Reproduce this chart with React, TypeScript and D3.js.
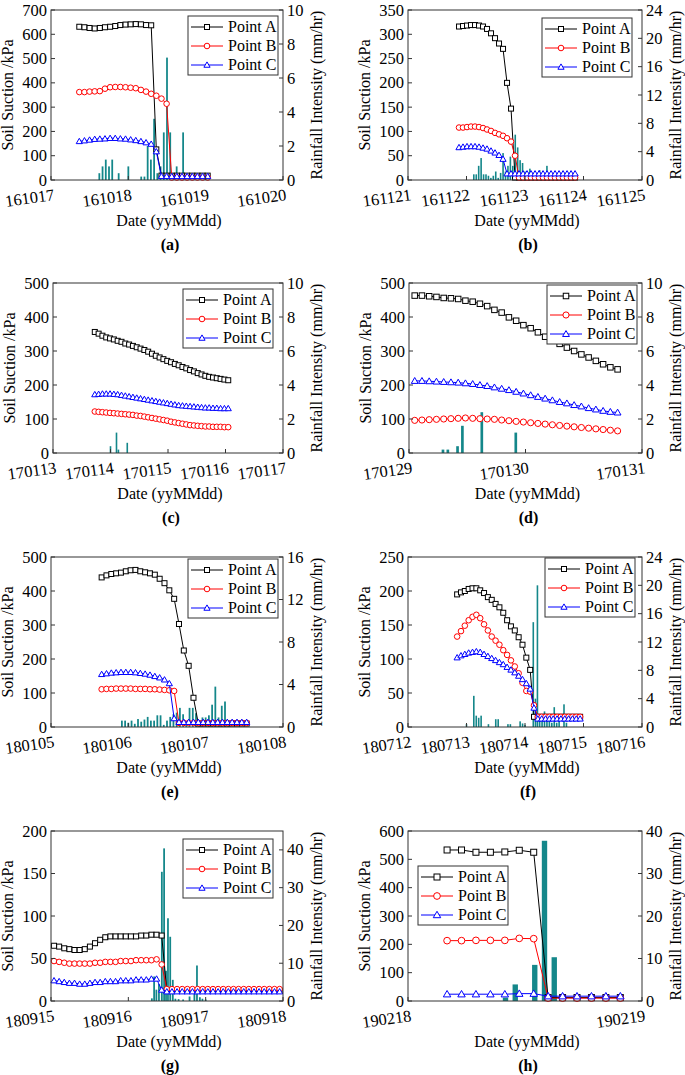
import * as d3 from "d3";

const FONT = "'Liberation Serif', 'Times New Roman', serif";
const RAIN = "#14878a";
const PLOT_H = 170;

// (a) 161017 - 161020
const aDates = ["161017", "161018", "161019", "161020"];
const aPointA = [631, 629, 626, 624, 626, 629, 631, 634, 638, 640, 641, 642, 641, 638, 637, 126, 18, 18, 18, 18, 18, 18, 18, 18, 18, 18];
const aPointB = [362, 362, 364, 365, 366, 376, 382, 383, 383, 382, 380, 378, 371, 364, 355, 347, 335, 314, 10, 10, 10, 10, 10, 10, 10, 10];
const aPointC = [159, 162, 165, 168, 169, 170, 172, 172, 170, 169, 166, 163, 159, 154, 148, 117, 15, 15, 15, 15, 15, 15, 15, 15, 15, 15];
const aRainHour = [15, 16, 17, 18, 19, 21, 24, 28, 29, 30, 31, 32, 33, 34, 35, 36, 37, 38, 39, 41];
const aRainValue = [0.4, 0.8, 1.2, 0.8, 1.2, 0.4, 0.8, 0.2, 0.2, 2.0, 1.2, 3.6, 0.4, 0.8, 2.8, 7.2, 2.8, 0.4, 0.8, 2.8];

// (b) 161121 - 161125
const bDates = ["161121", "161122", "161123", "161124", "161125"];
const bPointA = [316, 317, 318, 319, 319, 318, 316, 311, 302, 292, 281, 270, 200, 147, 5, 5, 5, 5, 5, 5, 5, 5, 5, 5, 5, 5, 5, 5, 5, 5];
const bPointB = [108, 108, 109, 110, 110, 109, 107, 104, 101, 97, 94, 91, 86, 79, 50, 5, 5, 5, 5, 5, 5, 5, 5, 5, 5, 5, 5, 5, 5, 5];
const bPointC = [67, 68, 69, 69, 69, 68, 66, 64, 60, 56, 51, 43, 13, 13, 13, 13, 13, 13, 13, 13, 13, 13, 13, 13, 13, 13, 13, 13, 13, 13];
const bRainHour = [27, 28, 29, 30, 31, 32, 33, 34, 35, 36, 37, 38, 39, 40, 41, 42, 43, 44, 45, 46, 47, 48, 49, 50, 51, 52, 53, 54, 55, 56, 57, 58, 59, 60];
const bRainValue = [0.8, 0.8, 2.0, 3.1, 0.8, 0.8, 0.6, 0.3, 0.6, 1.2, 0.3, 1.0, 3.8, 1.2, 2.0, 3.3, 2.0, 6.4, 4.6, 2.8, 2.4, 1.2, 0.8, 1.6, 1.0, 1.2, 0.8, 1.4, 0.6, 1.0, 2.0, 0.8, 0.6, 0.4];

// (c) 170113 - 170117
const cDates = ["170113", "170114", "170115", "170116", "170117"];
const cPointA = [356, 351, 345, 340, 337, 334, 330, 327, 322, 319, 315, 311, 307, 303, 298, 292, 286, 281, 276, 271, 267, 262, 258, 253, 249, 244, 240, 235, 231, 227, 224, 222, 220, 218, 216, 214];
const cPointB = [122, 121, 120, 119, 118, 117, 116, 115, 114, 113, 112, 110, 109, 107, 105, 103, 101, 99, 97, 95, 92, 90, 88, 86, 84, 82, 81, 80, 79, 78, 78, 77, 77, 77, 76, 76];
const cPointC = [172, 173, 174, 174, 174, 173, 172, 170, 168, 166, 164, 162, 160, 158, 156, 154, 152, 150, 148, 146, 144, 142, 140, 139, 138, 137, 136, 135, 134, 133, 133, 132, 132, 131, 131, 131];
const cRainHour = [24, 26.5, 27.3, 31];
const cRainValue = [0.4, 1.2, 0.2, 0.6];

// (d) 170129 - 170131
const dDates = ["170129", "170130", "170131"];
const dPointA = [463, 463, 461, 459, 456, 455, 453, 448, 445, 439, 432, 421, 413, 399, 389, 376, 367, 355, 342, 333, 321, 310, 300, 290, 281, 271, 261, 252, 246];
const dPointB = [96, 97, 98, 99, 100, 101, 102, 103, 102, 101, 100, 99, 97, 95, 93, 91, 89, 87, 85, 83, 81, 79, 77, 75, 73, 71, 69, 67, 65];
const dPointC = [212, 212, 211, 210, 209, 208, 207, 205, 203, 200, 197, 193, 189, 185, 180, 175, 170, 165, 160, 155, 150, 146, 141, 137, 132, 128, 124, 121, 119];
const dRainHour = [7, 8, 10, 11, 15, 22];
const dRainValue = [0.2, 0.2, 0.4, 1.6, 2.4, 1.2];

// (e) 180105 - 180108
const eDates = ["180105", "180106", "180107", "180108"];
const ePointA = [440, 446, 450, 452, 454, 458, 461, 462, 458, 455, 452, 448, 436, 423, 402, 377, 303, 225, 180, 86, 10, 10, 10, 10, 10, 10, 10, 10, 10, 10, 10];
const ePointB = [111, 112, 112, 113, 113, 113, 113, 112, 112, 112, 111, 111, 110, 109, 108, 106, 12, 12, 12, 12, 12, 12, 12, 12, 12, 12, 12, 12, 12, 12, 12];
const ePointC = [155, 157, 159, 160, 161, 161, 161, 160, 158, 156, 153, 149, 145, 139, 128, 25, 14, 14, 14, 14, 14, 14, 14, 14, 14, 14, 14, 14, 14, 14, 14];
const eRainHour = [22, 23, 24, 25, 26, 27, 28, 29, 30, 31, 32, 33, 34, 35, 36, 37, 38, 39, 40, 41, 42, 43, 44, 45, 46, 47, 48, 49, 50, 51, 52, 53, 54, 55];
const eRainValue = [0.6, 0.6, 0.4, 0.6, 0.3, 0.75, 0.5, 0.7, 0.95, 0.6, 0.6, 1.1, 1.1, 0.2, 0.6, 0.95, 1.2, 1.35, 1.8, 1.2, 0.4, 1.8, 1.8, 1.3, 0.6, 0.9, 0.9, 1.1, 2.1, 3.8, 0.9, 2.0, 2.4, 0.3];

// (f) 180712 - 180716
const fDates = ["180712", "180713", "180714", "180715", "180716"];
const fPointA = [195, 198, 200, 203, 204, 204, 201, 197, 191, 187, 181, 176, 168, 157, 148, 142, 132, 121, 102, 84, 15, 15, 15, 15, 15, 15, 15, 15, 15, 15, 15, 15, 15];
const fPointB = [133, 141, 149, 157, 162, 165, 160, 151, 142, 133, 127, 121, 113, 106, 98, 89, 79, 65, 53, 52, 32, 15, 15, 15, 15, 15, 15, 15, 15, 15, 15, 15, 15];
const fPointC = [102, 105, 107, 109, 110, 111, 110, 107, 104, 101, 98, 95, 92, 88, 84, 80, 75, 70, 64, 56, 28, 12, 12, 12, 12, 12, 12, 12, 12, 12, 12, 12, 12];
const fRainHour = [24, 27, 28, 29, 30, 33, 36, 37, 41, 42, 46, 47, 48, 51.4, 52.3, 53.1, 54, 55, 56, 57, 58, 59, 60, 61, 62, 64, 65];
const fRainValue = [0.4, 4.4, 1.6, 1.3, 1.6, 0.4, 1.1, 1.1, 0.4, 0.4, 0.8, 0.5, 0.3, 14.8, 4.0, 20.0, 1.5, 1.0, 2.2, 1.0, 1.0, 0.6, 2.8, 0.6, 1.0, 3.2, 0.6];

// (g) 180915 - 180918
const gDates = ["180915", "180916", "180917", "180918"];
const gPointA = [65, 64, 62, 61, 60, 60, 61, 64, 68, 72, 75, 76, 76, 76, 76, 76, 76, 77, 77, 78, 78, 77, 12, 12, 12, 12, 12, 12, 12, 12, 12, 12, 12, 12, 12, 12, 12, 12, 12, 12, 12, 12, 12, 12, 12];
const gPointB = [47, 46, 45, 44, 44, 44, 44, 44, 45, 45, 46, 46, 46, 47, 47, 47, 48, 48, 48, 48, 49, 43, 14, 14, 14, 14, 14, 14, 14, 14, 14, 14, 14, 14, 14, 14, 14, 14, 14, 14, 14, 14, 14, 14, 14];
const gPointC = [24, 23, 22, 21, 21, 20, 20, 21, 22, 22, 23, 23, 23, 24, 24, 24, 25, 25, 25, 26, 26, 13, 11, 11, 11, 11, 11, 11, 11, 11, 11, 11, 11, 11, 11, 11, 11, 11, 11, 11, 11, 11, 11, 11, 11];
const gRainHour = [31.3, 32.0, 32.7, 33.5, 34.4, 35.1, 35.7, 36.3, 37.0, 37.8, 38.6, 39.6, 41.0, 43.0, 44.5, 45.3, 46.2, 47.0, 48.0];
const gRainValue = [0.7, 6.5, 3.0, 4.5, 34.2, 40.4, 8.0, 21.9, 17.0, 5.6, 0.6, 0.5, 0.4, 1.2, 2.0, 9.4, 1.0, 0.6, 0.4];

// (h) 190218 - 190219
const hDates = ["190218", "190219"];
const hPointA = [533, 533, 525, 525, 526, 532, 525, 12, 12, 12, 12, 12, 12];
const hPointB = [213, 213, 214, 214, 214, 221, 220, 10, 10, 10, 10, 10, 10];
const hPointC = [24, 24, 24, 24, 24, 26, 26, 17, 17, 17, 17, 17, 17];
const hRainHour = [10, 11, 13, 14, 15];
const hRainValue = [0.8, 3.9, 8.5, 37.7, 10.3];

type PanelCfg = {
  tag: string;
  left: number;
  top: number;
  width: number;
  dates: string[];
  suctionMax: number;
  suctionStep: number;
  rainMax: number;
  rainTickMax: number;
  rainStep: number;
  start: number; // day offset of first reading
  step: number; // reading interval, days
  A: number[];
  B: number[];
  C: number[];
  rainHour: number[];
  rainValue: number[];
  legend: [number, number];
  marker: number;
};

const panels: PanelCfg[] = [
  { tag: "(a)", left: 51, top: 10, width: 232, dates: aDates, suctionMax: 700, suctionStep: 100, rainMax: 10, rainTickMax: 10, rainStep: 2, start: 0.366, step: 0.0664, A: aPointA, B: aPointB, C: aPointC, rainHour: aRainHour, rainValue: aRainValue, legend: [188, 16], marker: 5 },
  { tag: "(b)", left: 408, top: 10, width: 234, dates: bDates, suctionMax: 350, suctionStep: 50, rainMax: 24, rainTickMax: 24, rainStep: 4, start: 0.872, step: 0.0684, A: bPointA, B: bPointB, C: bPointC, rainHour: bRainHour, rainValue: bRainValue, legend: [542, 18], marker: 5 },
  { tag: "(c)", left: 53, top: 283, width: 230, dates: cDates, suctionMax: 500, suctionStep: 100, rainMax: 10, rainTickMax: 10, rainStep: 2, start: 0.727, step: 0.0663, A: cPointA, B: cPointB, C: cPointC, rainHour: cRainHour, rainValue: cRainValue, legend: [183, 289], marker: 5 },
  { tag: "(d)", left: 409, top: 283, width: 233, dates: dDates, suctionMax: 500, suctionStep: 100, rainMax: 10, rainTickMax: 10, rainStep: 2, start: 0.049, step: 0.0622, A: dPointA, B: dPointB, C: dPointC, rainHour: dRainHour, rainValue: dRainValue, legend: [547, 285], marker: 5.5 },
  { tag: "(e)", left: 51, top: 557, width: 232, dates: eDates, suctionMax: 500, suctionStep: 100, rainMax: 16, rainTickMax: 16, rainStep: 4, start: 0.655, step: 0.0625, A: ePointA, B: ePointB, C: ePointC, rainHour: eRainHour, rainValue: eRainValue, legend: [188, 559], marker: 5 },
  { tag: "(f)", left: 408, top: 557, width: 234, dates: fDates, suctionMax: 250, suctionStep: 50, rainMax: 24, rainTickMax: 24, rainStep: 4, start: 0.84, step: 0.0657, A: fPointA, B: fPointB, C: fPointC, rainHour: fRainHour, rainValue: fRainValue, legend: [545, 558], marker: 5 },
  { tag: "(g)", left: 51, top: 831, width: 232, dates: gDates, suctionMax: 200, suctionStep: 50, rainMax: 45, rainTickMax: 40, rainStep: 10, start: 0.039, step: 0.0663, A: gPointA, B: gPointB, C: gPointC, rainHour: gRainHour, rainValue: gRainValue, legend: [183, 839], marker: 5 },
  { tag: "(h)", left: 408, top: 831, width: 234, dates: hDates, suctionMax: 600, suctionStep: 100, rainMax: 40, rainTickMax: 40, rainStep: 10, start: 0.167, step: 0.0617, A: hPointA, B: hPointB, C: hPointC, rainHour: hRainHour, rainValue: hRainValue, legend: [418, 866], marker: 6 },
];

const seriesStyle = [
  { name: "Point A", key: "A", color: "#000000", shape: "square" },
  { name: "Point B", key: "B", color: "#ff0000", shape: "circle" },
  { name: "Point C", key: "C", color: "#0000ff", shape: "triangle" },
] as const;

function Marker({ shape, x, y, s, color }: { shape: string; x: number; y: number; s: number; color: string }) {
  if (shape === "square") {
    return <rect x={x - s / 2} y={y - s / 2} width={s} height={s} fill="#fff" stroke={color} strokeWidth={1} />;
  }
  if (shape === "circle") {
    return <circle cx={x} cy={y} r={s * 0.56} fill="#fff" stroke={color} strokeWidth={1} />;
  }
  const pts = [
    [x, y - s * 0.62],
    [x - s * 0.62, y + s * 0.45],
    [x + s * 0.62, y + s * 0.45],
  ];
  return <polygon points={pts.map((p) => p.join(",")).join(" ")} fill="#fff" stroke={color} strokeWidth={1} />;
}

function Panel({ p }: { p: PanelCfg }) {
  const bottom = p.top + PLOT_H;
  const right = p.left + p.width;
  const x = d3.scaleLinear().domain([0, p.dates.length - 1]).range([p.left, right]);
  const yL = d3.scaleLinear().domain([0, p.suctionMax]).range([bottom, p.top]);
  const yR = d3.scaleLinear().domain([0, p.rainMax]).range([bottom, p.top]);
  const leftTicks = d3.range(0, p.suctionMax + 1e-6, p.suctionStep);
  const rightTicks = d3.range(0, p.rainTickMax + 1e-6, p.rainStep);
  const hourPx = (x(1) - x(0)) / 24;
  const bw = Math.max(1.6, hourPx * 0.55);
  const tOf = (i: number) => p.start + i * p.step;
  const line = d3
    .line<number>()
    .x((_, i) => x(tOf(i)))
    .y((v) => yL(v));
  const cx = (p.left + right) / 2;
  const cy = (p.top + bottom) / 2;
  const [lx, ly] = p.legend;

  return (
    <g fontFamily={FONT}>
      {/* rainfall bars */}
      {p.rainHour.map((h, i) => (
        <rect
          key={"r" + i}
          x={x(h / 24) - bw / 2}
          y={yR(p.rainValue[i])}
          width={bw}
          height={bottom - yR(p.rainValue[i])}
          fill={RAIN}
        />
      ))}

      {/* suction series */}
      {seriesStyle.map((s) => {
        const vals = p[s.key] as number[];
        return (
          <g key={s.key}>
            <path d={line(vals) || ""} fill="none" stroke={s.color} strokeWidth={1} />
            {vals.map((v, i) => (
              <Marker key={i} shape={s.shape} x={x(tOf(i))} y={yL(v)} s={p.marker} color={s.color} />
            ))}
          </g>
        );
      })}

      {/* frame */}
      <rect x={p.left} y={p.top} width={p.width} height={PLOT_H} fill="none" stroke="#333" strokeWidth={1} />

      {/* left axis */}
      {leftTicks.map((t) => (
        <g key={"l" + t}>
          <line x1={p.left} x2={p.left + 4} y1={yL(t)} y2={yL(t)} stroke="#333" />
          <text x={p.left - 4} y={yL(t) + 5.5} fontSize={16.5} textAnchor="end">
            {t}
          </text>
        </g>
      ))}

      {/* right axis */}
      {rightTicks.map((t) => (
        <g key={"rt" + t}>
          <line x1={right} x2={right - 4} y1={yR(t)} y2={yR(t)} stroke="#333" />
          <text x={right + 4} y={yR(t) + 5.5} fontSize={16.5} textAnchor="start">
            {t}
          </text>
        </g>
      ))}

      {/* bottom axis */}
      {p.dates.map((d, i) => (
        <g key={"x" + d}>
          <line x1={x(i)} x2={x(i)} y1={bottom} y2={bottom - 4} stroke="#333" />
          <text transform={`translate(${x(i) + 4},${bottom + 20}) rotate(-8)`} fontSize={16.5} textAnchor="end">
            {d}
          </text>
        </g>
      ))}

      {/* titles */}
      <text transform={`translate(${p.left - 38},${cy}) rotate(-90)`} fontSize={16} textAnchor="middle">
        Soil Suction /kPa
      </text>
      <text transform={`translate(${right + 39},${cy}) rotate(-90)`} fontSize={16} textAnchor="middle">
        Rainfall Intensity (mm/hr)
      </text>
      <text x={cx + 2} y={bottom + 46} fontSize={16} textAnchor="middle">
        Date (yyMMdd)
      </text>
      <text x={cx + 3} y={bottom + 70} fontSize={16} fontWeight="bold" textAnchor="middle">
        {p.tag}
      </text>

      {/* legend */}
      <rect x={lx} y={ly} width={90} height={59} fill="#fff" stroke="#333" strokeWidth={1} />
      {seriesStyle.map((s, i) => {
        const yy = ly + 11 + 19 * i;
        return (
          <g key={"lg" + s.key}>
            <line x1={lx + 3} x2={lx + 35} y1={yy} y2={yy} stroke={s.color} strokeWidth={1} />
            <Marker shape={s.shape} x={lx + 19} y={yy} s={p.marker} color={s.color} />
            <text x={lx + 40} y={yy + 5} fontSize={16}>
              {s.name}
            </text>
          </g>
        );
      })}
    </g>
  );
}

export default function App() {
  return (
    <svg
      width={685}
      height={1075}
      viewBox="0 0 685 1075"
      style={{ position: "absolute", left: 0, top: 0, background: "#fff" }}
    >
      {panels.map((p) => (
        <Panel key={p.tag} p={p} />
      ))}
    </svg>
  );
}
